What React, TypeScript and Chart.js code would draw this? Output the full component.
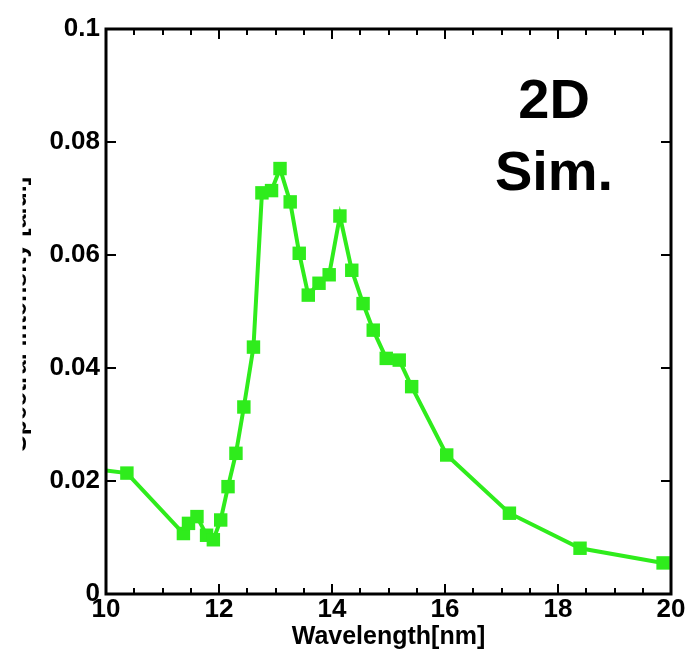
import React, { useEffect, useRef } from "react";
import { Chart, registerables } from "chart.js";

Chart.register(...registerables);

// Wavelength [nm]
const wavelength = [
  9.9, 10.37, 11.37, 11.46, 11.61, 11.78, 11.9, 12.03, 12.16, 12.3, 12.44, 12.61,
  12.76, 12.93, 13.08, 13.26, 13.42, 13.58, 13.77, 13.95, 14.14, 14.35, 14.55,
  14.73, 14.96, 15.19, 15.41, 16.03, 17.14, 18.39, 19.86,
];
// Intensity
const intensity = [
  0.022, 0.0214, 0.0107, 0.0125, 0.0137, 0.0104, 0.0096, 0.0131, 0.019, 0.0249,
  0.0331, 0.0437, 0.071, 0.0714, 0.0753, 0.0694, 0.0603, 0.0529, 0.055, 0.0565,
  0.0669, 0.0573, 0.0514, 0.0467, 0.0417, 0.0414, 0.0367, 0.0246, 0.0143, 0.0081,
  0.0055,
];

const xRange = [10, 20];
const yRange = [0, 0.1];
const xLabelStep = 2;
const xMinorStep = 0.5;
const yStep = 0.02;
const xTitle = "Wavelength[nm]";
const yTitle = "Spectral intensity [a.u.]";
const annotationLines = ["2D", "Sim."];
const annotationX = 17.93;
const annotationY = [0.0842, 0.0715];

const FONT = '"Liberation Sans", Arial, Helvetica, sans-serif';
const GREEN = "#2fec1c";

const framePlugin = {
  id: "frameTicks",
  afterDraw(chart: any) {
    const { ctx, chartArea: a, scales } = chart;
    const xs = scales.x;
    const ys = scales.y;
    ctx.save();
    ctx.strokeStyle = "#000";
    ctx.lineWidth = 2;
    ctx.beginPath();
    for (const t of xs.ticks) {
      const v = t.value;
      const px = Math.round(xs.getPixelForValue(v));
      const major = Math.abs(v / xLabelStep - Math.round(v / xLabelStep)) < 1e-6;
      const len = major ? 10 : 6;
      ctx.moveTo(px, a.bottom);
      ctx.lineTo(px, a.bottom - len);
      ctx.moveTo(px, a.top);
      ctx.lineTo(px, a.top + len);
    }
    for (const t of ys.ticks) {
      const py = Math.round(ys.getPixelForValue(t.value));
      ctx.moveTo(a.left, py);
      ctx.lineTo(a.left + 10, py);
      ctx.moveTo(a.right, py);
      ctx.lineTo(a.right - 10, py);
    }
    ctx.stroke();
    ctx.lineWidth = 3;
    ctx.strokeRect(a.left, a.top, a.right - a.left, a.bottom - a.top);

    // annotation
    ctx.fillStyle = "#000";
    ctx.font = `bold 56px ${FONT}`;
    ctx.textAlign = "center";
    ctx.textBaseline = "alphabetic";
    annotationLines.forEach((s, i) => {
      ctx.fillText(s, xs.getPixelForValue(annotationX), ys.getPixelForValue(annotationY[i]));
    });

    // clipped y-axis title (only its lower edge is visible)
    ctx.save();
    ctx.beginPath();
    ctx.rect(22.5, 0, 20, chart.height);
    ctx.clip();
    ctx.translate(25.5, (a.top + a.bottom) / 2 + 3);
    ctx.rotate(-Math.PI / 2);
    ctx.font = `bold 25px ${FONT}`;
    ctx.textAlign = "center";
    ctx.textBaseline = "alphabetic";
    ctx.fillText(yTitle, 0, 0);
    ctx.restore();

    ctx.restore();
  },
};

export default function App() {
  const ref = useRef<HTMLCanvasElement | null>(null);

  useEffect(() => {
    if (!ref.current) return;
    const chart = new Chart(ref.current, {
      type: "line",
      data: {
        datasets: [
          {
            data: wavelength.map((x, i) => ({ x, y: intensity[i] })),
            borderColor: GREEN,
            backgroundColor: GREEN,
            borderWidth: 4,
            pointStyle: "rect",
            pointRadius: 9.5,
            pointBorderWidth: 0,
            pointBackgroundColor: GREEN,
            tension: 0,
            clip: 0,
          },
        ],
      },
      options: {
        animation: false,
        responsive: false,
        events: [],
        layout: { padding: { top: 29, right: 18, left: 0, bottom: 0 } },
        plugins: { legend: { display: false }, tooltip: { enabled: false } },
        scales: {
          x: {
            type: "linear",
            min: xRange[0],
            max: xRange[1],
            grid: { display: false, drawTicks: false },
            border: { display: false },
            ticks: {
              stepSize: xMinorStep,
              autoSkip: false,
              maxRotation: 0,
              padding: 0,
              color: "#000",
              font: { family: FONT, size: 26, weight: "bold" },
              callback: (v: any) => {
                const n = Number(v);
                return Math.abs(n / xLabelStep - Math.round(n / xLabelStep)) < 1e-6 ? String(n) : "";
              },
            },
            title: {
              display: true,
              text: xTitle,
              color: "#000",
              font: { family: FONT, size: 25, weight: "bold" },
              padding: { top: 0, bottom: 4 },
            },
            afterFit: (s: any) => {
              s.height = 62;
            },
          },
          y: {
            type: "linear",
            min: yRange[0],
            max: yRange[1],
            grid: { display: false, drawTicks: false },
            border: { display: false },
            ticks: {
              stepSize: yStep,
              padding: 6,
              color: "#000",
              font: { family: FONT, size: 26, weight: "bold" },
              callback: (v: any) => String(Number(Number(v).toFixed(3))),
            },
            afterFit: (s: any) => {
              s.width = 106;
            },
          },
        },
      },
      plugins: [framePlugin],
    });
    return () => chart.destroy();
  }, []);

  return (
    <div style={{ position: "absolute", left: 0, top: 0, width: 689, height: 656, background: "#fff" }}>
      <canvas ref={ref} width={689} height={656} />
    </div>
  );
}
